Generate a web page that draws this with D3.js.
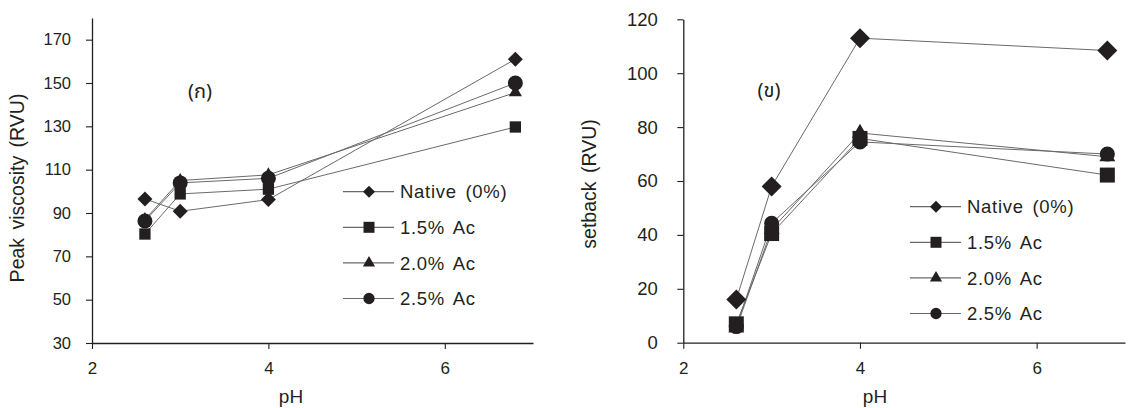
<!DOCTYPE html>
<html>
<head>
<meta charset="utf-8">
<script src="https://cdn.jsdelivr.net/npm/d3@7"></script>
<style>
  html, body { margin: 0; padding: 0; background: #fff; }
  svg { display: block; font-family: "Liberation Sans", Arial, Helvetica, sans-serif; }
</style>
</head>
<body>
<svg id="chart" width="1129" height="408"></svg>
<script>
// pH levels shared by both panels
const phValues = [2.6, 3.0, 4.0, 6.8];
const seriesNames = ["Native (0%)", "1.5% Ac", "2.0% Ac", "2.5% Ac"];
const seriesSymbols = ["diamond", "square", "triangle", "circle"];

// Panel (ก): peak viscosity (RVU)
const peakNative = [96.5, 90.8, 96.2, 161];
const peakAc15 = [80.3, 98.8, 101, 129.7];
const peakAc20 = [87, 105, 107.6, 145.6];
const peakAc25 = [86.3, 103.9, 106, 150];

// Panel (ข): setback (RVU)
const setbackNative = [16, 58, 113, 108.4];
const setbackAc15 = [7, 40.5, 75.8, 62.2];
const setbackAc20 = [5.5, 42, 77.8, 69];
const setbackAc25 = [6, 44.3, 74.5, 70];

// Axis ticks
const phTicks = [2, 4, 6];
const peakTicks = [30, 50, 70, 90, 110, 130, 150, 170];
const setbackTicks = [0, 20, 40, 60, 80, 100, 120];

const svg = d3.select("#chart");
const LINE = "#6a6a6a";
const INK = "#231f20";

function symbolPath(kind, size) {
  if (kind === "diamond") return d3.symbol(d3.symbolSquare, size)();
  if (kind === "square") return d3.symbol(d3.symbolSquare, size)();
  if (kind === "triangle") return d3.symbol(d3.symbolTriangle, size)();
  return d3.symbol(d3.symbolCircle, size)();
}

function drawPanel(cfg) {
  const g = svg.append("g");
  const x = d3.scaleLinear().domain([2, 7]).range(cfg.xRange);
  const y = d3.scaleLinear().domain(cfg.yDomain).range(cfg.yRange);

  // y axis
  const yAxis = g.append("g")
    .attr("transform", `translate(${cfg.xRange[0]},0)`)
    .call(d3.axisLeft(y).tickValues(cfg.yTicks).tickFormat(d3.format("d"))
      .tickSize(6).tickPadding(cfg.yPad).tickSizeOuter(0));
  yAxis.select(".domain").attr("stroke", INK).attr("stroke-width", 1.3);
  yAxis.selectAll(".tick line").attr("stroke", INK).attr("stroke-width", 1.1);
  yAxis.selectAll(".tick text").attr("fill", INK).attr("font-size", cfg.yFont)
    .attr("font-family", "Liberation Sans, Arial, sans-serif");

  // x axis
  const xAxis = g.append("g")
    .attr("transform", `translate(0,${cfg.yRange[0]})`)
    .call(d3.axisBottom(x).tickValues(phTicks).tickFormat(d3.format("d"))
      .tickSize(6).tickPadding(13).tickSizeOuter(0));
  xAxis.select(".domain").attr("stroke", INK).attr("stroke-width", 1.3);
  xAxis.selectAll(".tick line").attr("stroke", INK).attr("stroke-width", 1.1);
  xAxis.selectAll(".tick text").attr("fill", INK).attr("font-size", cfg.xFont)
    .attr("font-family", "Liberation Sans, Arial, sans-serif");

  // series lines then markers
  const line = d3.line().x((d, i) => x(phValues[i])).y(d => y(d));
  cfg.series.forEach((vals) => {
    g.append("path").datum(vals)
      .attr("d", line).attr("fill", "none")
      .attr("stroke", LINE).attr("stroke-width", 1);
  });
  cfg.series.forEach((vals, si) => {
    const kind = seriesSymbols[si];
    g.append("g").selectAll("path").data(vals).join("path")
      .attr("d", symbolPath(kind, cfg.markerSizes[kind]))
      .attr("transform", (d, i) => `translate(${x(phValues[i])},${y(d)})` + (kind === "diamond" ? " rotate(45)" : ""))
      .attr("fill", INK);
  });

  // legend
  const lg = g.append("g");
  seriesNames.forEach((name, i) => {
    const ly = cfg.legend.y0 + i * cfg.legend.dy;
    const row = lg.append("g").attr("transform", `translate(${cfg.legend.x},${ly})`);
    row.append("line").attr("x1", 0).attr("x2", 51).attr("y1", 0).attr("y2", 0)
      .attr("stroke", LINE).attr("stroke-width", 1.2);
    const kind = seriesSymbols[i];
    row.append("path")
      .attr("d", symbolPath(kind, cfg.legendSizes[kind]))
      .attr("transform", `translate(26,0)` + (kind === "diamond" ? " rotate(45)" : ""))
      .attr("fill", INK);
    row.append("text").attr("x", 57).attr("y", 6.6)
      .attr("font-size", 18.5).attr("letter-spacing", 0.7).attr("word-spacing", 3)
      .attr("fill", INK).text(name);
  });

  // panel tag
  g.append("text").attr("x", cfg.tag.x).attr("y", cfg.tag.y)
    .attr("text-anchor", "middle").attr("font-size", 20).attr("fill", INK)
    .attr("font-family", "Noto Sans Thai, Loma, Garuda, Tlwg Typo, DejaVu Sans, Liberation Sans, sans-serif")
    .text(cfg.tag.text);

  // axis titles
  g.append("text").attr("x", cfg.xTitle.x).attr("y", 403)
    .attr("text-anchor", "middle").attr("font-size", 19).attr("fill", INK)
    .text("pH");
  g.append("text")
    .attr("transform", `translate(${cfg.yTitle.x},${cfg.yTitle.y}) rotate(-90)`)
    .attr("text-anchor", "middle").attr("font-size", 19.5).attr("word-spacing", 3).attr("fill", INK)
    .text(cfg.yTitle.text);
}

drawPanel({
  xRange: [92, 533],
  yDomain: [30, 180],
  yRange: [343, 18],
  yTicks: peakTicks,
  yPad: 15,
  yFont: 16.5,
  xFont: 17,
  series: [peakNative, peakAc15, peakAc20, peakAc25],
  markerSizes: { diamond: 112, square: 128, triangle: 75, circle: 177 },
  legendSizes: { diamond: 72, square: 121, triangle: 64, circle: 100 },
  legend: { x: 343, y0: 191.7, dy: 35.6 },
  tag: { x: 200, y: 97.5, text: "(ก)" },
  xTitle: { x: 291 },
  yTitle: { x: 24, y: 188, text: "Peak viscosity (RVU)" }
});

drawPanel({
  xRange: [683.3, 1125],
  yDomain: [0, 120],
  yRange: [342.7, 19.3],
  yTicks: setbackTicks,
  yPad: 19.5,
  yFont: 18.5,
  xFont: 17,
  series: [setbackNative, setbackAc15, setbackAc20, setbackAc25],
  markerSizes: { diamond: 200, square: 225, triangle: 110, circle: 180 },
  legendSizes: { diamond: 72, square: 121, triangle: 64, circle: 100 },
  legend: { x: 910, y0: 206.7, dy: 35.6 },
  tag: { x: 769, y: 97, text: "(ข)" },
  xTitle: { x: 875 },
  yTitle: { x: 596, y: 184, text: "setback (RVU)" }
});
</script>
</body>
</html>
